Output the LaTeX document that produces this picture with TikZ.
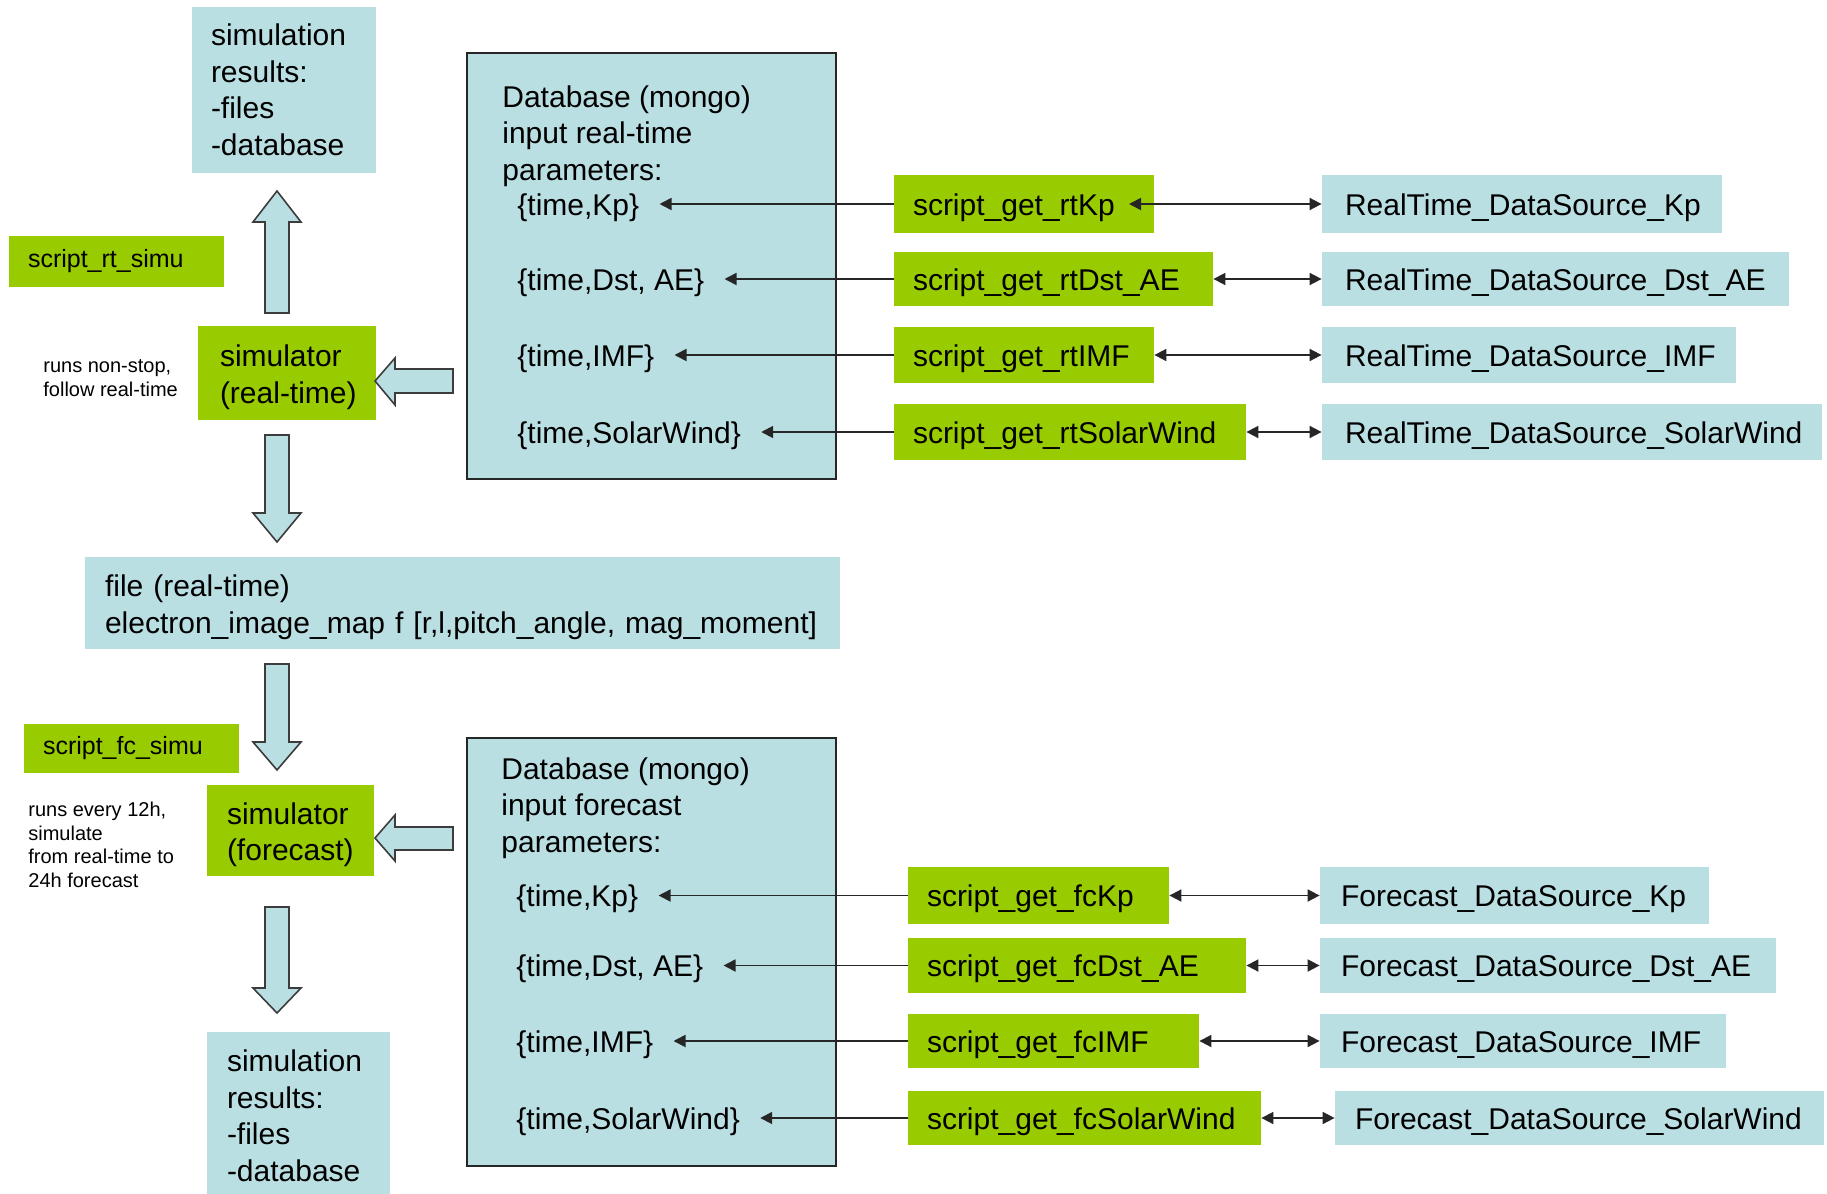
\documentclass[tikz,border=0pt]{standalone}
\usepackage{fontspec}
\setmainfont{Liberation Sans}
\usetikzlibrary{arrows.meta}

\definecolor{boxblue}{RGB}{186,223,227}
\definecolor{boxgreen}{RGB}{153,204,0}
\definecolor{arrowline}{RGB}{60,60,60}

\newcommand\mainsize{\fontsize{15}{18.25}\selectfont}
\newcommand\simusize{\fontsize{12.5}{15}\selectfont}
\newcommand\notesize{\fontsize{10}{11.8}\selectfont}
% extra head room on the first line of a two-line box
\newcommand\topgap{\rule{0pt}{15pt}}

% filled box given by its corners (in px units), with a left text padding
% #1 name, #2 style, #3 x1, #4 y1, #5 x2, #6 y2, #7 padding, #8 text
\newcommand\pbox[8]{%
  \pgfmathsetmacro\pbW{(#5-#3)*0.5}%
  \pgfmathsetmacro\pbH{(#6-#4)*0.5}%
  \pgfmathsetmacro\pbT{(#5-#3-2*(#7))*0.5}%
  \pgfmathsetmacro\pbP{(#7)*0.5}%
  \pgfmathsetmacro\pbX{(#3+#5)/2}%
  \pgfmathsetmacro\pbY{(#4+#6)/2}%
  \node[#2, minimum width=\pbW pt, minimum height=\pbH pt, text width=\pbT pt,
        inner xsep=\pbP pt, inner ysep=0pt, align=left] (#1) at (\pbX,\pbY) {#8};%
}

\begin{document}
\begin{tikzpicture}[x=0.5pt,y=-0.5pt,
  every node/.style={font=\mainsize, text=black},
  bluebox/.style={fill=boxblue},
  greenbox/.style={fill=boxgreen},
  dbbox/.style={fill=boxblue, draw=black!85, line width=1.1pt},
  oneline/.style={text height=13.5pt, text depth=2.5pt},
  param/.style={anchor=west, inner xsep=10pt, inner ysep=0pt, oneline},
  heading/.style={anchor=west, inner sep=0pt, align=left},
  note/.style={anchor=west, inner sep=0pt, align=left, font=\notesize},
  conn/.style={draw=black!85, line width=0.9pt},
  blockarrow/.style={draw=arrowline, fill=boxblue, line width=0.8pt, line join=miter},
  >={Triangle[length=6pt,width=6pt]}
]
\useasboundingbox (0,0) rectangle (1827,1194);

% ---------------- real-time chain ----------------
\pbox{resrt}{bluebox}{192}{7}{376}{173}{19}{simulation\\results:\\-files\\-database}
\pbox{scrrt}{greenbox,font=\simusize}{9}{236}{224}{287}{19}{script\_rt\_simu}
\pbox{simrt}{greenbox}{198}{326}{376}{420}{22}{\topgap simulator\\\mbox{(real-time)}}
\node[note] (notert) at (43,378) {runs non-stop,\\follow real-time};

% database of real-time inputs
\pbox{dbrt}{dbbox}{467}{53}{836}{479}{0}{}
\node[heading] (dbrth) at (502,136) {Database (mongo)\\input real-time\\parameters:};

\pbox{rtKp}{greenbox,oneline}{894}{175}{1154}{233}{19}{script\_get\_rtKp}
\pbox{rtDst}{greenbox,oneline}{894}{252}{1213}{306}{19}{script\_get\_rtDst\_AE}
\pbox{rtIMF}{greenbox,oneline}{894}{327}{1154}{383}{19}{script\_get\_rtIMF}
\pbox{rtSW}{greenbox,oneline}{894}{404}{1246}{460}{19}{script\_get\_rtSolarWind}

\pbox{rsKp}{bluebox,oneline}{1322}{175}{1722}{233}{23}{RealTime\_DataSource\_Kp}
\pbox{rsDst}{bluebox,oneline}{1322}{252}{1789}{306}{23}{RealTime\_DataSource\_Dst\_AE}
\pbox{rsIMF}{bluebox,oneline}{1322}{327}{1736}{383}{23}{RealTime\_DataSource\_IMF}
\pbox{rsSW}{bluebox,oneline}{1322}{404}{1822}{460}{23}{RealTime\_DataSource\_SolarWind}

\node[param] (pKp)  at (497,204) {\{time,Kp\}};
\node[param] (pDst) at (497,279) {\{time,Dst, AE\}};
\node[param] (pIMF) at (497,355) {\{time,IMF\}};
\node[param] (pSW)  at (497,432) {\{time,SolarWind\}};

% ---------------- shared file ----------------
\pbox{filert}{bluebox}{85}{557}{840}{649}{20}{\topgap file (real-time)\\\mbox{electron\_image\_map f [r,l,pitch\_angle, mag\_moment]}}

% ---------------- forecast chain ----------------
\pbox{scrfc}{greenbox,font=\simusize}{24}{724}{239}{773}{19}{script\_fc\_simu}
\pbox{simfc}{greenbox}{207}{785}{374}{876}{20}{\topgap simulator\\(forecast)}
\node[note] (notefc) at (28,845) {runs every 12h,\\simulate\\from real-time to\\24h forecast};
\pbox{resfc}{bluebox}{207}{1032}{390}{1200}{20}{simulation\\results:\\-files\\-database}

% database of forecast inputs
\pbox{dbfc}{dbbox}{467}{738}{836}{1166}{0}{}
\node[heading] (dbfch) at (501,808) {Database (mongo)\\input forecast\\parameters:};

\pbox{fcKp}{greenbox,oneline}{908}{867}{1169}{924}{19}{script\_get\_fcKp}
\pbox{fcDst}{greenbox,oneline}{908}{938}{1246}{993}{19}{script\_get\_fcDst\_AE}
\pbox{fcIMF}{greenbox,oneline}{908}{1014}{1199}{1068}{19}{script\_get\_fcIMF}
\pbox{fcSW}{greenbox,oneline}{908}{1091}{1261}{1145}{19}{script\_get\_fcSolarWind}

\pbox{fsKp}{bluebox,oneline}{1320}{867}{1709}{924}{21}{Forecast\_DataSource\_Kp}
\pbox{fsDst}{bluebox,oneline}{1320}{938}{1776}{993}{21}{Forecast\_DataSource\_Dst\_AE}
\pbox{fsIMF}{bluebox,oneline}{1320}{1014}{1726}{1068}{21}{Forecast\_DataSource\_IMF}
\pbox{fsSW}{bluebox,oneline}{1335}{1091}{1824}{1145}{20}{Forecast\_DataSource\_SolarWind}

\node[param] (qKp)  at (496,895.5) {\{time,Kp\}};
\node[param] (qDst) at (496,965.5) {\{time,Dst, AE\}};
\node[param] (qIMF) at (496,1041) {\{time,IMF\}};
\node[param] (qSW)  at (496,1118) {\{time,SolarWind\}};

% ---------------- connectors ----------------
\coordinate (kpin) at (1129,204);

\draw[conn,->] (rtKp.west)  -- (rtKp.west  -| pKp.east);
\draw[conn,->] (rtDst.west) -- (rtDst.west -| pDst.east);
\draw[conn,->] (rtIMF.west) -- (rtIMF.west -| pIMF.east);
\draw[conn,->] (rtSW.west)  -- (rtSW.west  -| pSW.east);

\draw[conn,<->] (kpin) -- (kpin -| rsKp.west);
\draw[conn,<->] (rtDst.east) -- (rsDst.west);
\draw[conn,<->] (rtIMF.east) -- (rsIMF.west);
\draw[conn,<->] (rtSW.east)  -- (rsSW.west);

\draw[conn,->] (fcKp.west)  -- (fcKp.west  -| qKp.east);
\draw[conn,->] (fcDst.west) -- (fcDst.west -| qDst.east);
\draw[conn,->] (fcIMF.west) -- (fcIMF.west -| qIMF.east);
\draw[conn,->] (fcSW.west)  -- (fcSW.west  -| qSW.east);

\draw[conn,<->] (fcKp.east)  -- (fsKp.west);
\draw[conn,<->] (fcDst.east) -- (fsDst.west);
\draw[conn,<->] (fcIMF.east) -- (fsIMF.west);
\draw[conn,<->] (fcSW.east)  -- (fsSW.west);

% ---------------- block arrows ----------------
% simulator (real-time) -> results
\draw[blockarrow] (265,313) -- (265,222) -- (253,222) -- (277,191) -- (301,222) -- (289,222) -- (289,313) -- cycle;
% simulator (real-time) -> file
\draw[blockarrow] (265,435) -- (265,513) -- (253,513) -- (277,542) -- (301,513) -- (289,513) -- (289,435) -- cycle;
% file -> simulator (forecast)
\draw[blockarrow] (265,664) -- (265,742) -- (253,742) -- (277,770) -- (301,742) -- (289,742) -- (289,664) -- cycle;
% simulator (forecast) -> results
\draw[blockarrow] (265,907) -- (265,988) -- (253,988) -- (277,1013) -- (301,988) -- (289,988) -- (289,907) -- cycle;
% databases -> simulators
\draw[blockarrow] (453,369) -- (395,369) -- (395,358) -- (375,381) -- (395,405) -- (395,393) -- (453,393) -- cycle;
\draw[blockarrow] (453,827) -- (395,827) -- (395,815) -- (375,838) -- (395,861) -- (395,850) -- (453,850) -- cycle;

\end{tikzpicture}
\end{document}
